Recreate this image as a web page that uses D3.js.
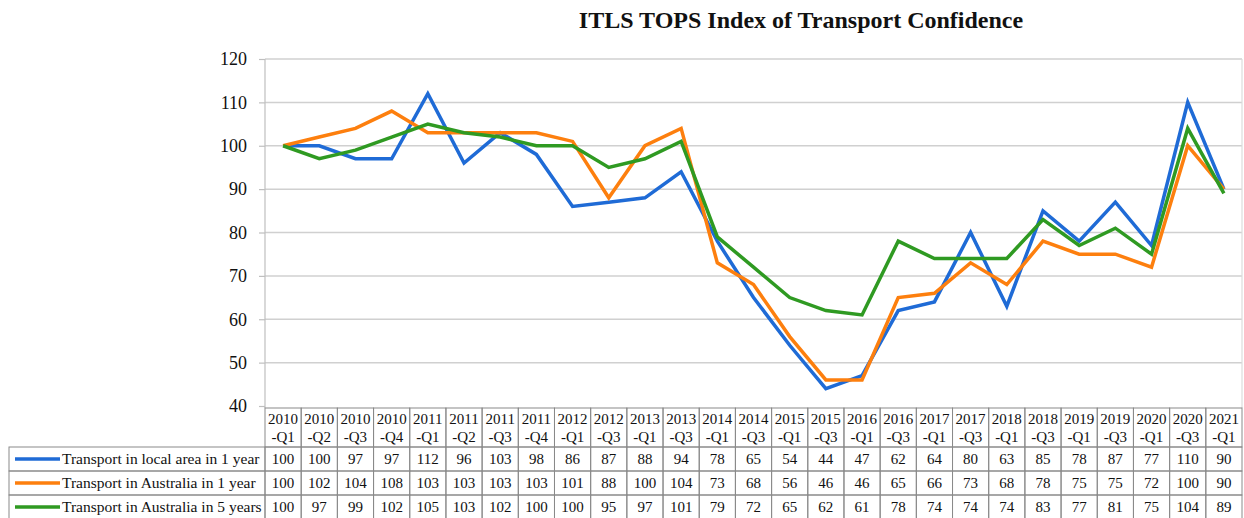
<!DOCTYPE html>
<html>
<head>
<meta charset="utf-8">
<script src="https://cdn.jsdelivr.net/npm/d3@7"></script>
<style>
  html, body { margin: 0; padding: 0; background: #fff; }
  svg { display: block; }
</style>
</head>
<body>
<div id="chart"></div>
<script>
// quarters along the x axis (shown as two-line headers in the data table)
const quarters = [
  '2010-Q1', '2010-Q2', '2010-Q3', '2010-Q4', '2011-Q1', '2011-Q2', '2011-Q3', '2011-Q4',
  '2012-Q1', '2012-Q3', '2013-Q1', '2013-Q3', '2014-Q1', '2014-Q3', '2015-Q1', '2015-Q3',
  '2016-Q1', '2016-Q3', '2017-Q1', '2017-Q3', '2018-Q1', '2018-Q3', '2019-Q1', '2019-Q3',
  '2020-Q1', '2020-Q3', '2021-Q1'
];

const localArea1yr = [100, 100, 97, 97, 112, 96, 103, 98, 86, 87, 88, 94, 78, 65, 54, 44, 47, 62, 64, 80, 63, 85, 78, 87, 77, 110, 90];
const australia1yr = [100, 102, 104, 108, 103, 103, 103, 103, 101, 88, 100, 104, 73, 68, 56, 46, 46, 65, 66, 73, 68, 78, 75, 75, 72, 100, 90];
const australia5yr = [100, 97, 99, 102, 105, 103, 102, 100, 100, 95, 97, 101, 79, 72, 65, 62, 61, 78, 74, 74, 74, 83, 77, 81, 75, 104, 89];

const seriesNames = ['Transport in local area in 1 year', 'Transport in Australia in 1 year', 'Transport in Australia in 5 years'];
const seriesColors = ['#1f6bd6', '#fd7f0e', '#2f9a22'];
const yTicks = [40, 50, 60, 70, 80, 90, 100, 110, 120];

const series = [localArea1yr, australia1yr, australia5yr].map((values, i) => ({
  name: seriesNames[i],
  color: seriesColors[i],
  values
}));

const width = 1244, height = 518;
const fontFamily = '"Liberation Serif", "Times New Roman", serif';
const gridColor = '#d0d0d0';
const borderColor = '#8a8a8a';

// layout
const plotLeft = 265, plotRight = 1242;
const plotTop = 59, plotBottom = 406;
const headerTop = 408, headerBottom = 447;
const rowHeight = 24;
const legendLeft = 9;

const svg = d3.select('#chart').append('svg')
  .attr('width', width)
  .attr('height', height)
  .attr('viewBox', `0 0 ${width} ${height}`);

const x = d3.scaleBand().domain(quarters).range([plotLeft, plotRight]).padding(0);
const y = d3.scaleLinear().domain([40, 120]).range([plotBottom, plotTop]);
const xc = d => x(d) + x.bandwidth() / 2;

// title
svg.append('text')
  .attr('x', 801)
  .attr('y', 28)
  .attr('text-anchor', 'middle')
  .style('font-family', fontFamily)
  .style('font-weight', 'bold')
  .style('font-size', '24px')
  .style('fill', '#111')
  .text('ITLS TOPS Index of Transport Confidence');

// gridlines
const gGrid = svg.append('g').attr('class', 'grid');
gGrid.selectAll('line')
  .data(yTicks.filter(t => t > 40))
  .join('line')
  .attr('x1', plotLeft)
  .attr('x2', plotRight)
  .attr('y1', d => y(d))
  .attr('y2', d => y(d))
  .style('stroke', gridColor)
  .style('stroke-width', 1.5);

// y axis
svg.append('g')
  .attr('transform', `translate(${plotLeft},0)`)
  .call(d3.axisLeft(y).tickValues(yTicks).tickSize(6).tickPadding(12).tickSizeOuter(0))
  .call(g => {
    g.select('.domain').style('stroke', '#bfbfbf').style('stroke-width', 1.2)
      .attr('d', `M0,${plotTop}V${headerTop}`);
    g.selectAll('.tick line').style('stroke', '#bfbfbf').style('stroke-width', 1.2);
    g.selectAll('text')
      .style('font-family', fontFamily)
      .style('font-size', '18px')
      .style('fill', '#111');
  });

// right plot edge
svg.append('line')
  .attr('x1', plotRight).attr('x2', plotRight)
  .attr('y1', plotTop).attr('y2', headerTop)
  .style('stroke', '#dcdcdc').style('stroke-width', 1.2);

// lines
const lineGen = d3.line()
  .x((d, i) => xc(quarters[i]))
  .y(d => y(d));

svg.append('g').attr('class', 'lines')
  .selectAll('path')
  .data(series)
  .join('path')
  .attr('d', d => lineGen(d.values))
  .style('fill', 'none')
  .style('stroke', d => d.color)
  .style('stroke-width', 3.5)
  .style('stroke-linejoin', 'miter');

// data table
const gTable = svg.append('g').attr('class', 'table');

// header cells
const headers = gTable.selectAll('g.header')
  .data(quarters)
  .join('g')
  .attr('class', 'header');

headers.append('rect')
  .attr('x', d => x(d))
  .attr('y', headerTop)
  .attr('width', x.bandwidth())
  .attr('height', headerBottom - headerTop)
  .style('fill', 'none')
  .style('stroke', borderColor)
  .style('stroke-width', 1);

headers.append('text')
  .attr('x', d => xc(d))
  .attr('y', headerTop + 16)
  .attr('text-anchor', 'middle')
  .style('font-family', fontFamily)
  .style('font-size', '15px')
  .style('fill', '#111')
  .text(d => d.split('-')[0]);

headers.append('text')
  .attr('x', d => xc(d))
  .attr('y', headerTop + 34)
  .attr('text-anchor', 'middle')
  .style('font-family', fontFamily)
  .style('font-size', '15px')
  .style('fill', '#111')
  .text(d => '-' + d.split('-')[1]);

// data rows
const rows = gTable.selectAll('g.row')
  .data(series)
  .join('g')
  .attr('class', 'row')
  .attr('transform', (d, i) => `translate(0,${headerBottom + i * rowHeight})`);

rows.append('rect')
  .attr('x', legendLeft)
  .attr('y', 0)
  .attr('width', plotLeft - legendLeft)
  .attr('height', rowHeight)
  .style('fill', 'none')
  .style('stroke', borderColor)
  .style('stroke-width', 1);

rows.append('line')
  .attr('x1', legendLeft + 6)
  .attr('x2', legendLeft + 51)
  .attr('y1', rowHeight / 2)
  .attr('y2', rowHeight / 2)
  .style('stroke', d => d.color)
  .style('stroke-width', 3.5);

rows.append('text')
  .attr('x', legendLeft + 53)
  .attr('y', rowHeight / 2 + 5)
  .style('font-family', fontFamily)
  .style('font-size', '15.5px')
  .style('fill', '#111')
  .text(d => d.name);

rows.each(function(s) {
  const cells = d3.select(this).selectAll('g.cell')
    .data(s.values.map((v, i) => ({ q: quarters[i], v })))
    .join('g')
    .attr('class', 'cell');
  cells.append('rect')
    .attr('x', d => x(d.q))
    .attr('y', 0)
    .attr('width', x.bandwidth())
    .attr('height', rowHeight)
    .style('fill', 'none')
    .style('stroke', borderColor)
    .style('stroke-width', 1);
  cells.append('text')
    .attr('x', d => xc(d.q))
    .attr('y', rowHeight / 2 + 5)
    .attr('text-anchor', 'middle')
    .style('font-family', fontFamily)
    .style('font-size', '15px')
    .style('fill', '#111')
    .text(d => Math.round(d.v));
});
</script>
</body>
</html>
